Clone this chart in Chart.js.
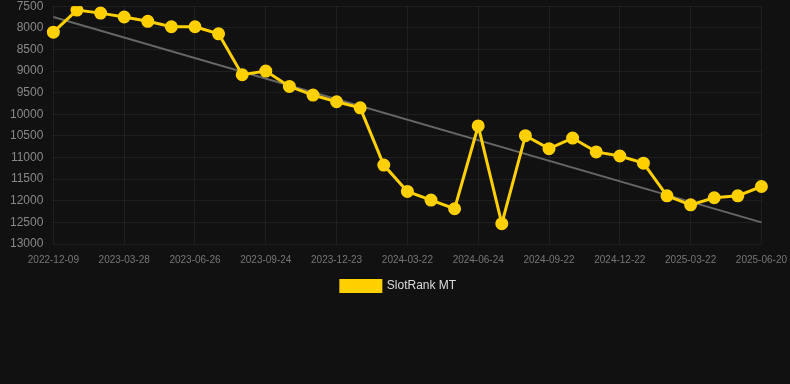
<!DOCTYPE html>
<html>
<head>
<meta charset="utf-8">
<script src="https://cdn.jsdelivr.net/npm/chart.js@4"></script>
<style>
  html, body { margin: 0; padding: 0; background: #111111; overflow: hidden; width: 790px; height: 384px; }
  #wrap { position: relative; top: -11px; width: 797px; height: 313px; }
</style>
</head>
<body>
<div id="wrap"><canvas id="c"></canvas></div>
<script>
const labels = [
  "2022-12-09","2023-01-14","2023-02-20","2023-03-28","2023-04-27","2023-05-27",
  "2023-06-26","2023-07-26","2023-08-25","2023-09-24","2023-10-24","2023-11-23",
  "2023-12-23","2024-01-22","2024-02-21","2024-03-22","2024-04-23","2024-05-24",
  "2024-06-24","2024-07-24","2024-08-23","2024-09-22","2024-10-23","2024-11-22",
  "2024-12-22","2025-01-21","2025-02-20","2025-03-22","2025-04-21","2025-05-21",
  "2025-06-20"
];
const rankValues = [
  8100, 7590, 7660, 7750, 7850, 7975,
  7975, 8140, 9085, 9000, 9355, 9555,
  9710, 9850, 11175, 11785, 11985, 12185,
  10270, 12530, 10495, 10795, 10550, 10870,
  10965, 11130, 11885, 12095, 11930, 11885,
  11670
];
const trendStart = 7750;
const trendEnd = 12500;
const yTicks = [7500, 8000, 8500, 9000, 9500, 10000, 10500, 11000, 11500, 12000, 12500, 13000];

new Chart(document.getElementById('c'), {
  type: 'line',
  data: {
    labels: labels,
    datasets: [
      {
        label: 'SlotRank MT',
        data: rankValues,
        borderColor: '#FFD000',
        backgroundColor: '#FFD000',
        borderWidth: 3,
        pointRadius: 5,
        pointHoverRadius: 5,
        pointBackgroundColor: '#FFD000',
        pointBorderColor: '#FFD000',
        tension: 0,
        order: 1
      },
      {
        label: 'trend',
        data: [{x: labels[0], y: trendStart}, {x: labels[labels.length - 1], y: trendEnd}],
        borderColor: '#666666',
        backgroundColor: '#666666',
        borderWidth: 2,
        pointRadius: 0,
        tension: 0,
        order: 2
      }
    ]
  },
  options: {
    responsive: true,
    maintainAspectRatio: false,
    animation: false,
    layout: { padding: 0 },
    scales: {
      x: {
        type: 'category',
        offset: false,
        grid: { color: 'rgba(255,255,255,0.06)', drawTicks: false },
        border: { display: false },
        ticks: {
          autoSkip: false,
          maxRotation: 0,
          minRotation: 0,
          padding: 10,
          color: '#777777',
          font: { family: 'Liberation Sans, Arial, sans-serif', size: 10 },
          callback: function (v, i) { return i % 3 === 0 ? labels[i] : null; }
        }
      },
      y: {
        reverse: true,
        min: 7500,
        max: 13000,
        afterBuildTicks: function (axis) { axis.ticks = yTicks.map(v => ({ value: v })); },
        grid: { color: 'rgba(255,255,255,0.06)', drawTicks: false },
        border: { display: false },
        ticks: {
          padding: 10,
          color: '#888888',
          font: { family: 'Liberation Sans, Arial, sans-serif', size: 12 },
          callback: function (v) { return String(v); }
        }
      }
    },
    plugins: {
      legend: {
        display: true,
        position: 'bottom',
        labels: {
          filter: function (item) { return item.text !== 'trend'; },
          boxWidth: 40,
          boxHeight: 11,
          padding: 4,
          color: '#dddddd',
          font: { family: 'Liberation Sans, Arial, sans-serif', size: 12 }
        }
      },
      tooltip: { enabled: false }
    }
  }
});
</script>
</body>
</html>
